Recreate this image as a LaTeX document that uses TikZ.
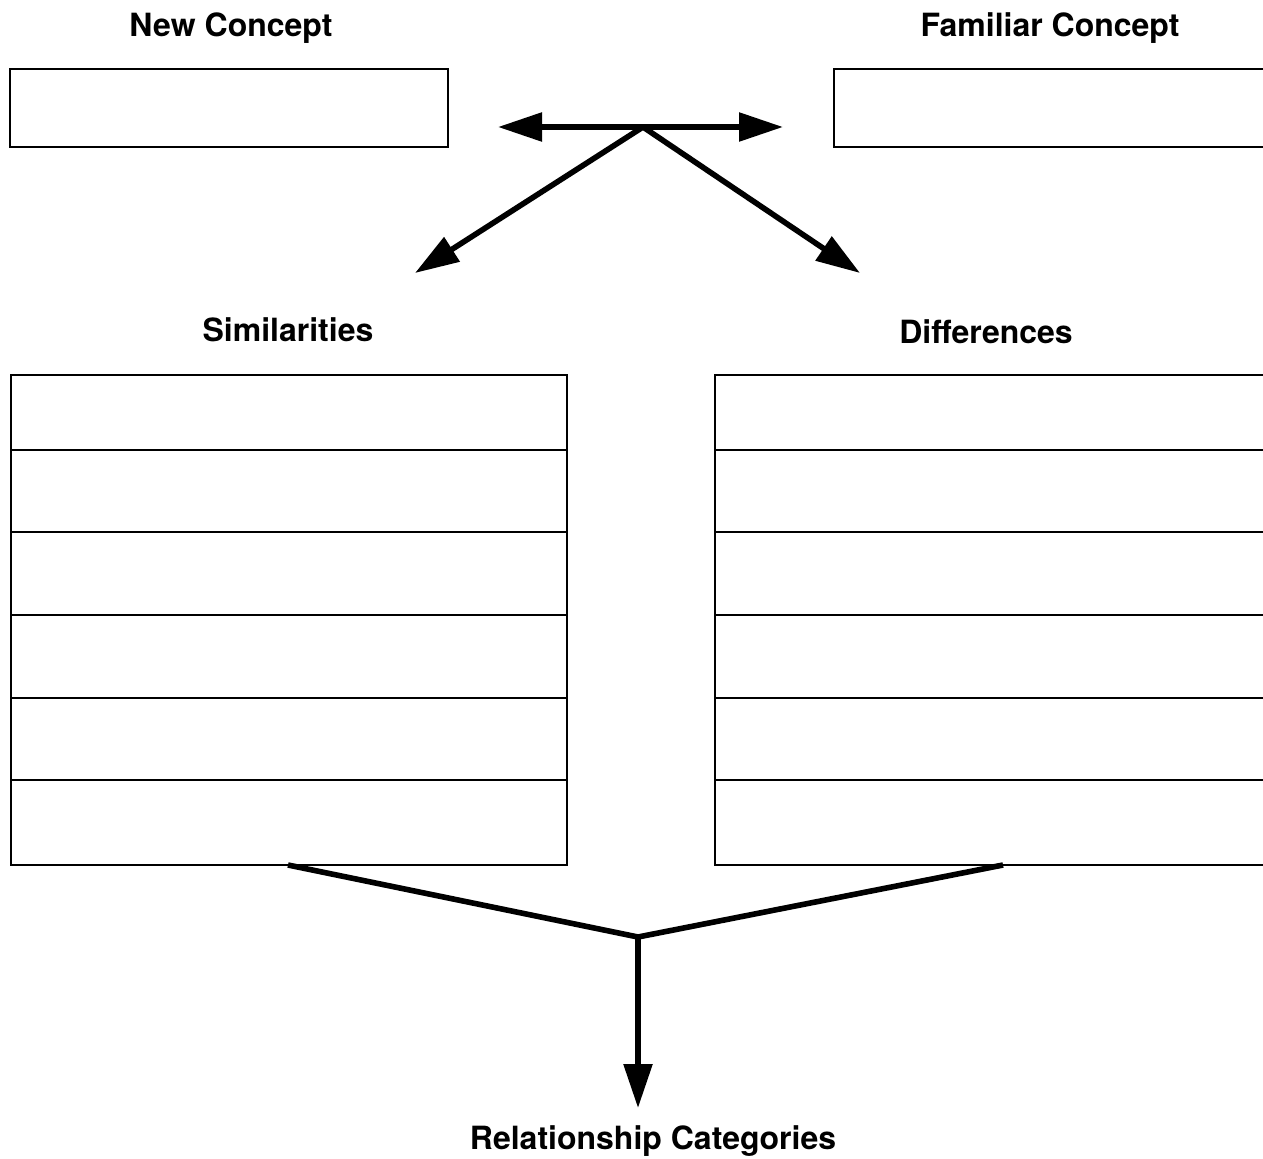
\documentclass[tikz,border=0pt]{standalone}
\usepackage{fontspec}
\setmainfont{TeX Gyre Heros}
\usetikzlibrary{arrows.meta}

\tikzset{
  lbl/.style={font=\bfseries\fontsize{24}{28}\selectfont, inner sep=0.75pt},
  thick arrow/.style={line width=4.2pt, -{Triangle[length=33pt,width=21pt]}},
  link/.style={line width=4.2pt},
}

\begin{document}
\begin{tikzpicture}[x=0.75pt,y=0.75pt,yscale=-1,xscale=1]

\useasboundingbox (0,0) rectangle (1263,1159);

% concept boxes
\node (newlbl) [lbl] at (231,28) {New Concept};
\node (famlbl) [lbl] at (1050,28) {Familiar Concept};

\draw [line width=1.5pt] (10,69) rectangle (448,147);
\draw [line width=1.5pt] (834,69) rectangle (1275,147);

% comparison arrows
\coordinate (hub) at (643,127);
\coordinate (lefttip) at (498,127);
\coordinate (righttip) at (783,127);
\coordinate (simtip) at (415,273);
\coordinate (difftip) at (860,273);

\draw [thick arrow] (hub) -- (lefttip);
\draw [thick arrow] (hub) -- (righttip);
\draw [thick arrow] (hub) -- (simtip);
\draw [thick arrow] (hub) -- (difftip);

% tables
\node (simlbl) [lbl] at (288,330) {Similarities};
\node (difflbl) [lbl] at (986,332) {Differences};

\draw [line width=1.5pt] (11,375) rectangle (567,865);
\draw [line width=1.5pt] (715,375) rectangle (1275,865);
\foreach \y in {450,532,615,698,780} {
  \draw [line width=1.5pt] (11,\y) -- (567,\y);
  \draw [line width=1.5pt] (715,\y) -- (1275,\y);
}

% join
\coordinate (simfoot) at (288,865);
\coordinate (difffoot) at (1003,865);
\coordinate (join) at (638,937);
\coordinate (reltip) at (638,1108);
\node (rellbl) [lbl] at (653,1141) {Relationship Categories};

\draw [link, line join=miter] (simfoot) -- (join) -- (difffoot);
\draw [thick arrow] (join) -- (reltip);

\end{tikzpicture}
\end{document}
